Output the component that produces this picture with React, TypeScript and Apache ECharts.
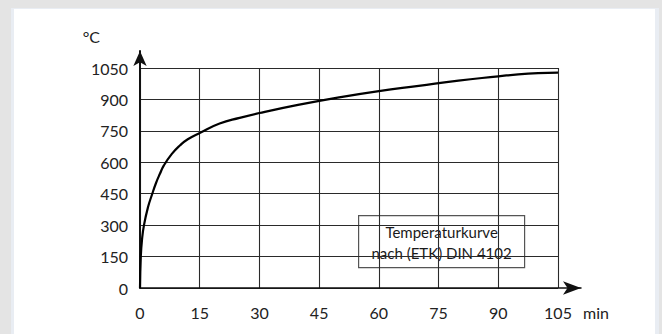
import React, { useEffect, useRef } from "react";
import * as echarts from "echarts";

const minutes = [0, 0.2, 0.5, 1, 2, 3, 4, 5, 6, 8, 10, 12, 15, 20, 25, 30, 40, 50, 60, 70, 80, 90, 95, 100, 105];
const temps = [0, 150, 230, 300, 385, 445, 500, 545, 585, 640, 680, 710, 740, 785, 812, 835, 875, 910, 940, 965, 990, 1010, 1020, 1026, 1028];
const xTicks = [0, 15, 30, 45, 60, 75, 90, 105];
const yTicks = [0, 150, 300, 450, 600, 750, 900, 1050];
const boxLines = ["Temperaturkurve", "nach (ETK) DIN 4102"];

const FONT = "Lato, 'Open Sans', sans-serif";

export default function App() {
  const ref = useRef<HTMLDivElement>(null);
  useEffect(() => {
    if (!ref.current) return;
    const chart = echarts.init(ref.current, null, { renderer: "svg" });
    const data = minutes.map((m, i) => [m, temps[i]]);
    chart.setOption({
      animation: false,
      textStyle: { fontFamily: FONT },
      grid: [
        { left: 140, top: 68, width: 418, height: 220 },
        { left: 140, top: 51, right: 81, bottom: 46 },
      ],
      xAxis: [
        {
          type: "value",
          gridIndex: 0,
          min: xTicks[0],
          max: xTicks[xTicks.length - 1],
          interval: 15,
          axisLine: { show: false },
          axisTick: { show: false },
          axisLabel: { color: "#222", fontSize: 16, fontFamily: FONT, margin: 16, formatter: (v: number) => String(v) },
          splitLine: { show: true, lineStyle: { color: "#2a2a2a", width: 1.1 } },
          name: "min",
          nameLocation: "end",
          nameGap: 25,
          nameTextStyle: { color: "#222", fontSize: 16, fontFamily: FONT, verticalAlign: "top", padding: [16, 0, 0, 0] },
        },
        {
          type: "value",
          gridIndex: 1,
          min: 0,
          max: 1,
          axisLine: { show: true, symbol: ["none", "arrow"], symbolSize: [10, 18], lineStyle: { color: "#111", width: 1.5 } },
          axisTick: { show: false },
          axisLabel: { show: false },
          splitLine: { show: false },
        },
      ],
      yAxis: [
        {
          type: "value",
          gridIndex: 0,
          min: yTicks[0],
          max: yTicks[yTicks.length - 1],
          interval: 150,
          axisLine: { show: false },
          axisTick: { show: false },
          axisLabel: { color: "#222", fontSize: 16, fontFamily: FONT, margin: 12, formatter: (v: number) => String(v) },
          splitLine: { show: true, lineStyle: { color: "#2a2a2a", width: 1.1 } },
          name: "°C",
          nameLocation: "end",
          nameGap: 24,
          nameTextStyle: { color: "#222", fontSize: 16, fontFamily: FONT, align: "right", padding: [0, 40, 0, 0] },
        },
        {
          type: "value",
          gridIndex: 1,
          min: 0,
          max: 1,
          axisLine: { show: true, symbol: ["none", "arrow"], symbolSize: [10, 15], lineStyle: { color: "#111", width: 2 } },
          axisTick: { show: false },
          axisLabel: { show: false },
          splitLine: { show: false },
        },
      ],
      series: [
        {
          type: "line",
          xAxisIndex: 0,
          yAxisIndex: 0,
          data,
          smooth: 0.5,
          showSymbol: false,
          lineStyle: { color: "#000", width: 2.2 },
          z: 3,
        },
      ],
      graphic: [
        {
          type: "group",
          left: 358,
          top: 215,
          z: 10,
          children: [
            { type: "rect", shape: { x: 0, y: 0, width: 166, height: 52 }, style: { fill: "#fff", stroke: "#555", lineWidth: 1.2 } },
            {
              type: "text",
              x: 83,
              y: 27,
              style: {
                text: boxLines.join("\n"),
                fill: "#1a1a1a",
                fontSize: 15,
                fontFamily: FONT,
                align: "center",
                verticalAlign: "middle",
                lineHeight: 21,
              },
            },
          ],
        },
      ],
    });
    return () => chart.dispose();
  }, []);

  return (
    <div style={{ position: "fixed", left: 0, top: 0, width: 662, height: 334, background: "#e4e4e4", overflow: "hidden" }}>
      <div style={{ position: "absolute", left: 11, top: 8, width: 648, height: 330, background: "#e9edf3" }} />
      <div style={{ position: "absolute", left: 14, top: 9, width: 641, height: 330, background: "#ffffff" }} />
      <div ref={ref} style={{ position: "absolute", left: 0, top: 0, width: 662, height: 334 }} />
    </div>
  );
}
